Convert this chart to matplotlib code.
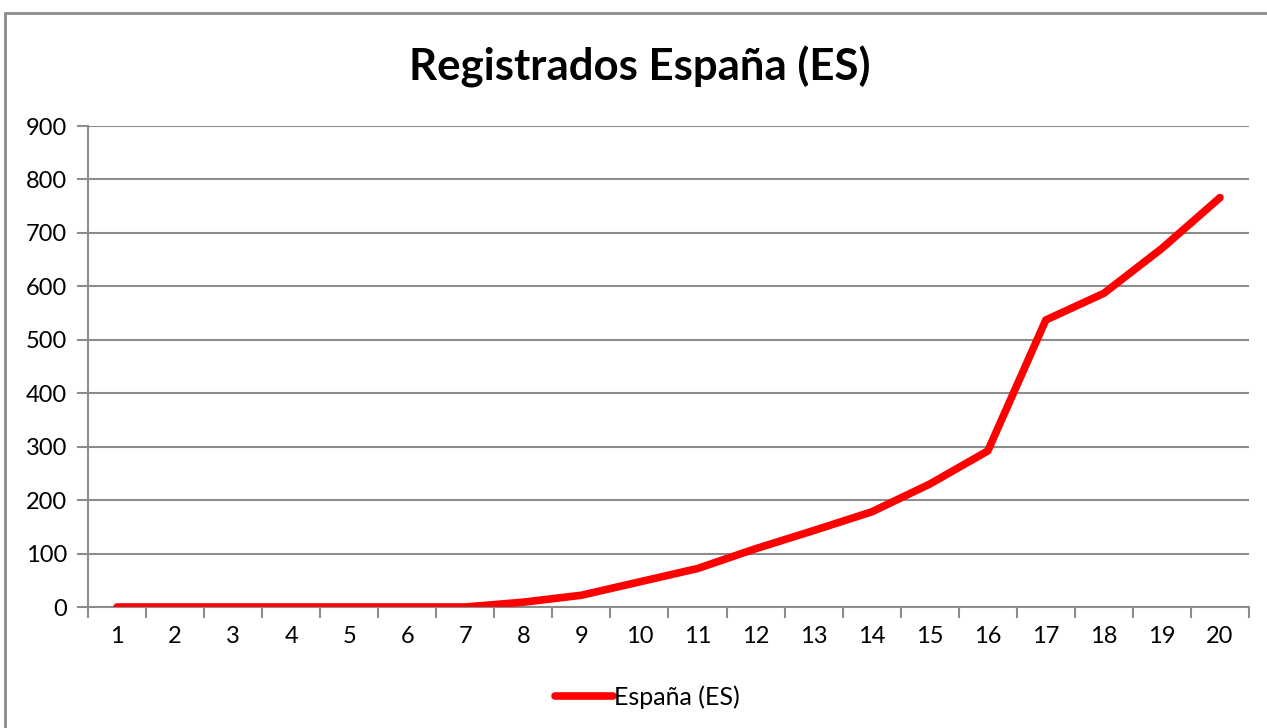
import numpy as np
import matplotlib.pyplot as plt
from matplotlib.patches import Rectangle

plt.rcParams['font.family'] = ['Lato', 'DejaVu Sans']

# data
dias = list(range(1, 21))
registrados = [0, 0, 0, 0, 0, 0, 0, 9, 22, 47, 72, 109, 143, 178, 230, 292, 537, 587, 671, 766]
serie = "España (ES)"
titulo = "Registrados España (ES)"

W, H = 1267, 728
fig = plt.figure(figsize=(W / 100, H / 100), dpi=100)
ax = fig.add_axes([88 / W, 1 - 607 / H, (1249 - 88) / W, (607 - 126) / H])

grey = "#8c8c8c"
ax.plot(dias, registrados, color="#ff0000", lw=5.5, solid_capstyle="round",
        solid_joinstyle="round", label=serie, zorder=3)

ax.set_xlim(0.5, 20.5)
ax.set_ylim(0, 900)
ax.set_yticks(np.arange(0, 901, 100))
ax.set_xticks(dias)
ax.set_xticks(np.arange(0.5, 20.6, 1), minor=True)
ax.tick_params(axis="x", which="major", length=0, pad=14, labelsize=17)
ax.tick_params(axis="x", which="minor", length=8, width=1.5, color=grey)
ax.tick_params(axis="y", length=8, width=1.5, color=grey, pad=7, labelsize=17)
ax.grid(axis="y", color=grey, lw=1.5, zorder=0)
ax.set_axisbelow(True)
for s in ["top", "right"]:
    ax.spines[s].set_visible(False)
for s in ["left", "bottom"]:
    ax.spines[s].set_color(grey)
    ax.spines[s].set_linewidth(1.5)

fig.text(0.5 + 6 / W, 1 - 67 / H, titulo, ha="center", va="center",
         fontsize=31.5, fontweight="bold")

leg = fig.legend(loc="center", bbox_to_anchor=(0.5 + 14 / W, 1 - 697 / H), frameon=False,
                 fontsize=18, handlelength=2.3, handletextpad=0.05)

fig.patches.append(Rectangle((5 / W, -0.01), 1.0, 1 - 13 / H + 0.01,
                             transform=fig.transFigure, fill=False,
                             edgecolor=grey, lw=2))

fig.savefig("out.png", dpi=100)
